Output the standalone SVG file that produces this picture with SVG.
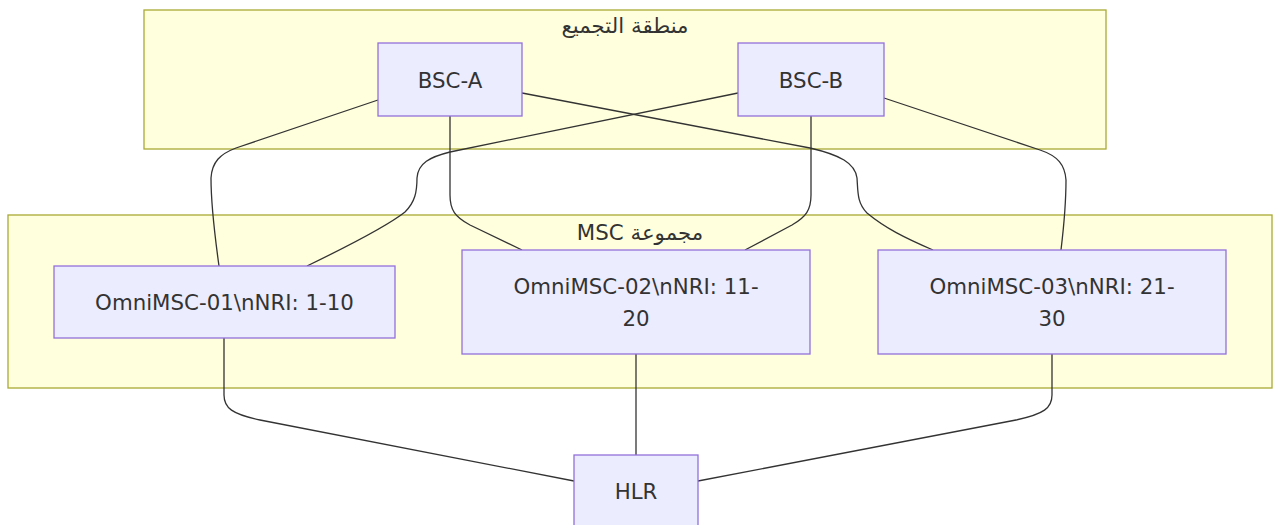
<svg xmlns="http://www.w3.org/2000/svg" width="1273" height="525" viewBox="0 0 1273 525">
<style>
.cluster{fill:#ffffde;stroke:#aaaa33;stroke-width:1.3}
.node{fill:#ececff;stroke:#9370db;stroke-width:1.3}
.lbl{font-family:"DejaVu Sans","Liberation Sans",sans-serif;font-size:21.33px;fill:#333333;text-anchor:middle;dominant-baseline:central}
.ctitle{font-family:"DejaVu Sans","Noto Sans",sans-serif;font-size:21.33px;fill:#333333;text-anchor:middle;dominant-baseline:central;direction:rtl;unicode-bidi:embed}
.edge{fill:none;stroke:#333333;stroke-width:1.3}
</style>
<rect width="1273" height="525" fill="#ffffff"/>
<g id="cluster-agg">
<rect class="cluster" x="144" y="10" width="962" height="139"/>
<text class="ctitle" x="625" y="25">منطقة التجميع</text>
</g>
<g id="cluster-msc">
<rect class="cluster" x="8" y="215" width="1264" height="173"/>
<text class="ctitle" x="640" y="232">مجموعة MSC</text>
</g>
<g id="edges">
<path class="edge" d="M378,100 L236,148 C220,154 212,162 211,178 C211,200 214,230 219,266"/>
<path class="edge" d="M450,116 L450,195 C450,210 455,217 470,225 L522,250"/>
<path class="edge" d="M522,93 L810,148 C840,155 855,163 857,178 C858,192 857,203 867,213 C885,228 905,238 933,250"/>
<path class="edge" d="M738,93 L450,152 C430,157 418,163 417,178 C417,192 415,202 405,212 C385,228 340,250 307,266"/>
<path class="edge" d="M811,116 L811,195 C811,210 806,217 792,225 L745,250"/>
<path class="edge" d="M884,98 L1040,150 C1058,156 1065,165 1066,180 C1066,200 1064,225 1061,250"/>
<path class="edge" d="M224,338 L224,395 C224,408 232,414 260,420 L574,481"/>
<path class="edge" d="M636,354 L636,455"/>
<path class="edge" d="M1052,354 L1052,395 C1052,408 1044,414 1016,420 L698,481"/>
</g>
<g id="bsc-a">
<rect class="node" x="378" y="43" width="144" height="73"/>
<text class="lbl" x="450" y="80">BSC-A</text>
</g>
<g id="bsc-b">
<rect class="node" x="738" y="43" width="146" height="73"/>
<text class="lbl" x="811" y="80">BSC-B</text>
</g>
<g id="msc-01">
<rect class="node" x="54" y="266" width="341" height="72"/>
<text class="lbl" x="224.5" y="302">OmniMSC-01\nNRI: 1-10</text>
</g>
<g id="msc-02">
<rect class="node" x="462" y="250" width="348" height="104"/>
<text class="lbl" x="636" y="286">OmniMSC-02\nNRI: 11-</text>
<text class="lbl" x="636" y="318">20</text>
</g>
<g id="msc-03">
<rect class="node" x="878" y="250" width="348" height="104"/>
<text class="lbl" x="1052" y="286">OmniMSC-03\nNRI: 21-</text>
<text class="lbl" x="1052" y="318">30</text>
</g>
<g id="hlr">
<rect class="node" x="574" y="455" width="124" height="90"/>
<text class="lbl" x="636" y="491">HLR</text>
</g>
</svg>
